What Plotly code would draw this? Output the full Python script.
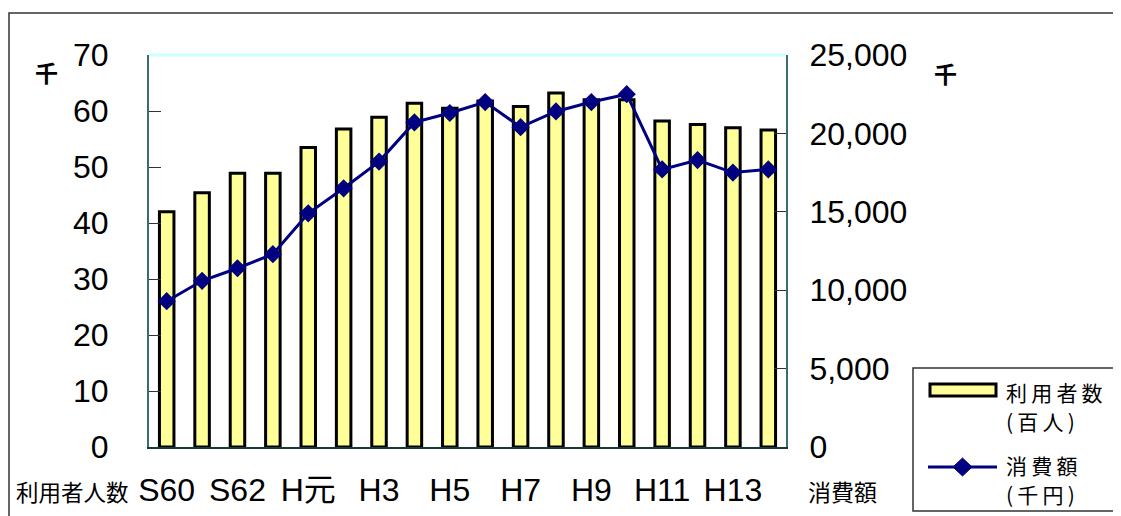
import plotly.graph_objects as go

# ---- data ----
categories = ["S60", "S61", "S62", "S63", "H元", "H2", "H3", "H4", "H5",
              "H6", "H7", "H8", "H9", "H10", "H11", "H12", "H13", "H14"]
users_hundreds = [42.0, 45.4, 48.9, 48.9, 53.5, 56.8, 58.9, 61.4, 60.5,
                  61.8, 60.8, 63.2, 62.0, 62.0, 58.2, 57.6, 57.0, 56.6]
spending_thousand_yen = [9300, 10600, 11400, 12300, 14900, 16500, 18200, 20700, 21300,
                         22000, 20400, 21400, 22000, 22500, 17700, 18300, 17500, 17700]
tick_labels = ["S60", "S62", "H元", "H3", "H5", "H7", "H9", "H11", "H13"]
left_ticks = [0, 10, 20, 30, 40, 50, 60, 70]
right_ticks = [0, 5000, 10000, 15000, 20000, 25000]

# ---- layout geometry (target pixels; page body adds an 8px offset) ----
OFF = 8
W, H = 1121 - OFF, 516 - OFF
PL, PR, PT, PB = 149, 786, 55, 447


def px(x):
    return (x - PL) / (PR - PL)


def py(y):
    return (PB - y) / (PB - PT)


LAT = "Liberation Sans, Arial, Noto Sans CJK JP"
CJK = "Noto Sans CJK JP, Liberation Sans"
AXC = "#3a6e6e"
TF = 32

fig = go.Figure()
fig.add_trace(go.Bar(
    x=categories, y=users_hundreds, name="利用者数(百人)",
    marker=dict(color="#ffff99", line=dict(color="#000000", width=3)),
    width=0.41, yaxis="y", showlegend=False,
))
fig.add_trace(go.Scatter(
    x=categories, y=spending_thousand_yen, name="消費額(千円)",
    mode="lines+markers",
    line=dict(color="#000080", width=3),
    marker=dict(symbol="diamond", size=14, color="#000080"),
    yaxis="y2", showlegend=False,
))

fig.update_layout(
    width=W, height=H,
    margin=dict(l=PL - OFF, r=W - (PR - OFF), t=PT - OFF, b=H - (PB - OFF), pad=0),
    paper_bgcolor="white", plot_bgcolor="white",
    font=dict(family=LAT, color="#000000"),
    xaxis=dict(
        type="category", tickmode="array", tickvals=tick_labels, ticktext=tick_labels,
        tickfont=dict(size=TF, family=LAT), showgrid=False, zeroline=False,
        showline=True, linecolor="#1a3a3a", linewidth=2, ticks="",
        ticklabelstandoff=14, range=[-0.5, len(categories) - 0.5], automargin=False,
    ),
    yaxis=dict(
        range=[0, 70], tickmode="array", tickvals=left_ticks,
        tickfont=dict(size=TF, family=LAT), showgrid=False, zeroline=False,
        showline=True, linecolor=AXC, linewidth=2,
        ticks="inside", ticklen=12, tickcolor="#333333", tickwidth=1,
        ticklabelstandoff=32, automargin=False,
    ),
    yaxis2=dict(
        range=[0, 25000], overlaying="y", side="right", tickmode="array",
        tickvals=right_ticks, tickformat=",",
        tickfont=dict(size=TF, family=LAT), showgrid=False, zeroline=False,
        showline=True, linecolor=AXC, linewidth=2,
        ticks="inside", ticklen=12, tickcolor="#333333", tickwidth=1,
        ticklabelstandoff=15, automargin=False,
    ),
)

shapes = []
# outer chart border
shapes.append(dict(type="rect", xref="paper", yref="paper",
                   x0=px(9), x1=px(1140), y0=py(540), y1=py(13),
                   line=dict(color="#333333", width=1.5), fillcolor="rgba(0,0,0,0)", layer="below"))
# top border of plot area (light cyan)
shapes.append(dict(type="line", xref="paper", yref="paper",
                   x0=0, x1=1, y0=1, y1=1, line=dict(color="#ccffff", width=3)))
# legend box
shapes.append(dict(type="rect", xref="paper", yref="paper",
                   x0=px(913), x1=px(1140), y0=py(511), y1=py(368),
                   line=dict(color="#333333", width=1.5), fillcolor="white"))
# legend bar symbol
shapes.append(dict(type="rect", xref="paper", yref="paper",
                   x0=px(930), x1=px(996), y0=py(396), y1=py(384),
                   line=dict(color="#000000", width=3), fillcolor="#ffff99"))
# legend line symbol
shapes.append(dict(type="line", xref="paper", yref="paper",
                   x0=px(928), x1=px(997), y0=py(467), y1=py(467),
                   line=dict(color="#000080", width=3)))
cx, cy, hw, hh = 962.5, 467, 9.5, 9
shapes.append(dict(type="path", xref="paper", yref="paper",
                   path=f"M {px(cx - hw)} {py(cy)} L {px(cx)} {py(cy - hh)} L {px(cx + hw)} {py(cy)} L {px(cx)} {py(cy + hh)} Z",
                   line=dict(color="#000080", width=1), fillcolor="#000080"))
fig.update_layout(shapes=shapes)

T = "\u2009"
ann = [
    dict(text="<b>千</b>", x=px(46), y=py(72), font=dict(size=23, family=CJK)),
    dict(text="<b>千</b>", x=px(945), y=py(73), font=dict(size=23, family=CJK)),
    dict(text="利用者人数", x=px(14), y=py(491), xanchor="left", font=dict(size=22.5, family=CJK)),
    dict(text="消費額", x=px(806), y=py(491), xanchor="left", font=dict(size=23, family=CJK)),
    dict(text=T.join("利用者数"), x=px(1004), y=py(392), xanchor="left", font=dict(size=21, family=CJK)),
    dict(text=T.join("(百人)"), x=px(1004), y=py(421), xanchor="left", font=dict(size=21, family=CJK)),
    dict(text=T.join("消費額"), x=px(1004), y=py(465), xanchor="left", font=dict(size=21, family=CJK)),
    dict(text=T.join("(千円)"), x=px(1004), y=py(494), xanchor="left", font=dict(size=21, family=CJK)),
]
for a in ann:
    a.setdefault("xanchor", "center")
    a.update(xref="paper", yref="paper", yanchor="middle", showarrow=False)
fig.update_layout(annotations=ann)

fig.write_html("out.html")
